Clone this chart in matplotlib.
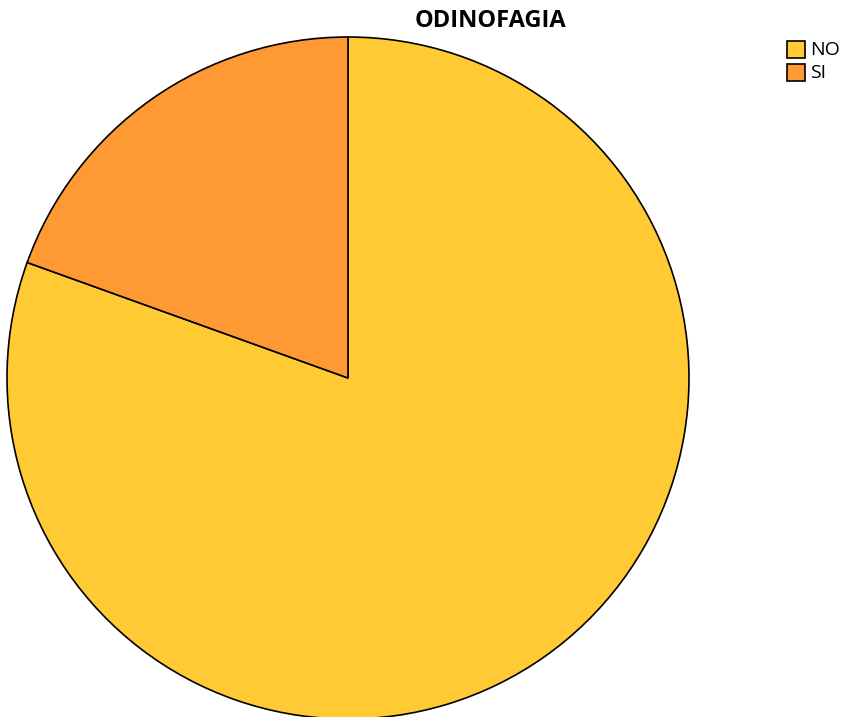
import matplotlib.pyplot as plt
from matplotlib.patches import Rectangle

# porcentajes de pacientes con odinofagia
categorias = ["NO", "SI"]
porcentajes = [80.5, 19.5]
colores = ["#FFCA33", "#FF9933"]

W, H = 843, 717
fig = plt.figure(figsize=(W / 100, H / 100), dpi=100)

# circulo centrado en (348, 378) px con radio 341 px
cx, cy, r = 348, 378, 341
ax = fig.add_axes([(cx - r) / W, (H - cy - r) / H, 2 * r / W, 2 * r / H])
ax.pie(porcentajes, colors=colores, startangle=90, counterclock=False,
       radius=1, wedgeprops=dict(edgecolor="black", linewidth=1.2))
ax.set_xlim(-1.0, 1.0)
ax.set_ylim(-1.0, 1.0)
ax.set_aspect("equal")
ax.axis("off")

fig.text(490 / W, 1 - 21 / H, "ODINOFAGIA", ha="center", va="center",
         fontsize=17, fontweight="bold", family="Open Sans")

# leyenda
for i, (cat, col) in enumerate(zip(categorias, colores)):
    y = 41 + i * 23
    fig.patches.append(Rectangle((787 / W, 1 - (y + 17) / H), 18 / W, 17 / H,
                                 facecolor=col, edgecolor="black", linewidth=1.2,
                                 transform=fig.transFigure))
    fig.text(810 / W, 1 - (y + 9) / H, cat, ha="left", va="center",
             fontsize=14, family="Open Sans")

fig.savefig("out.png", dpi=100)
